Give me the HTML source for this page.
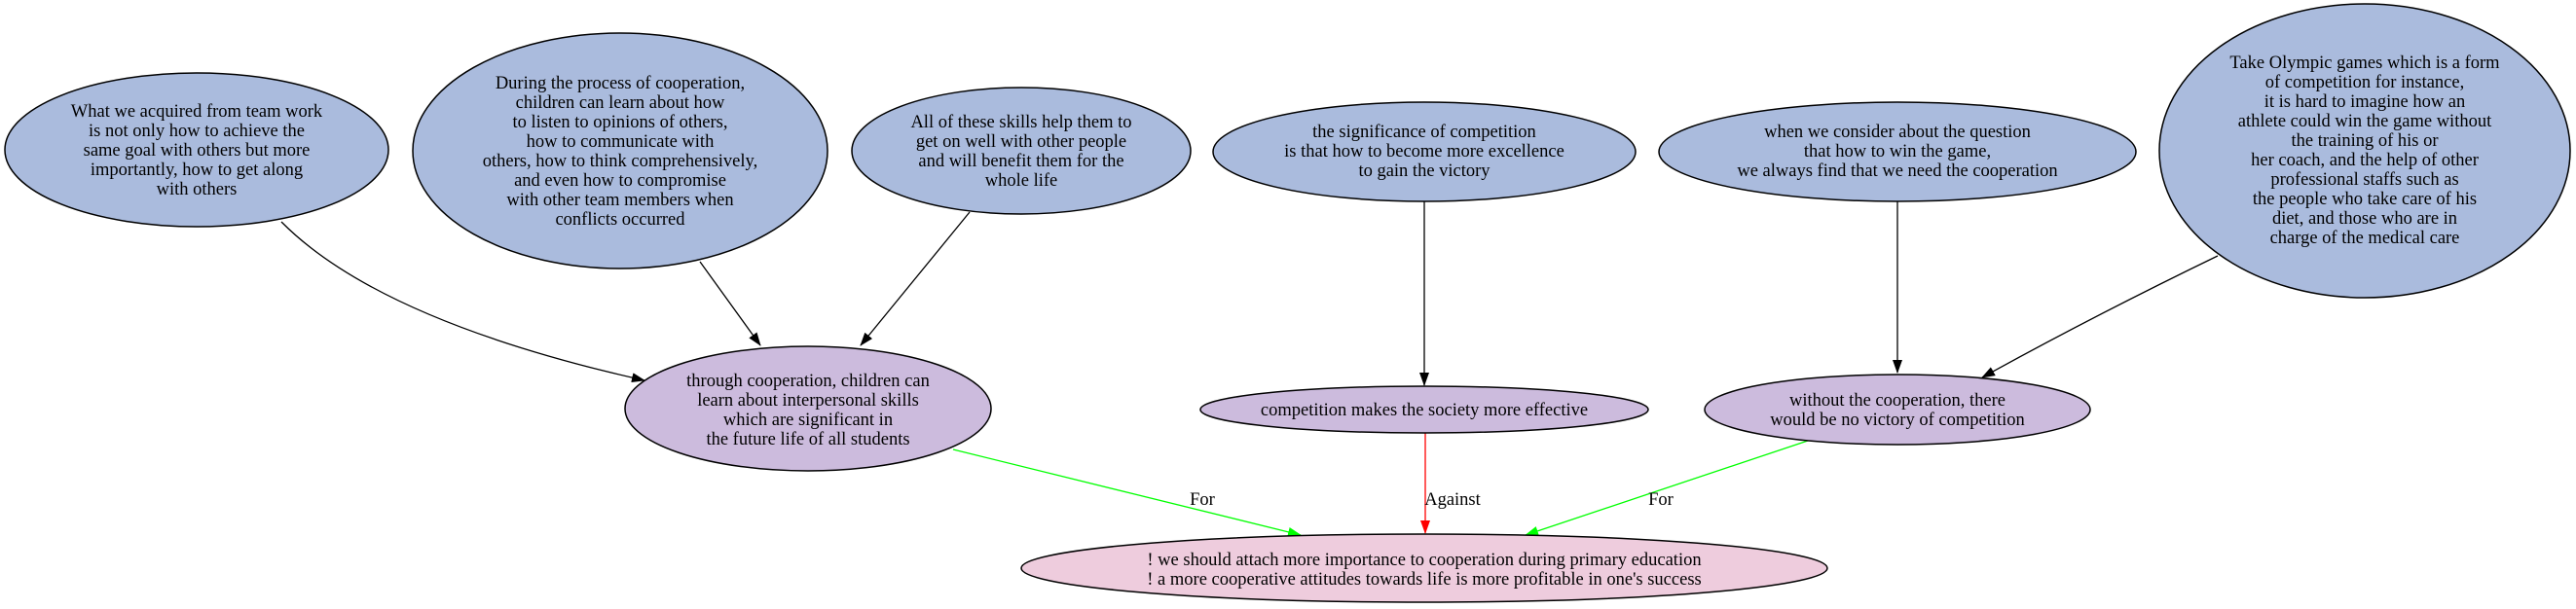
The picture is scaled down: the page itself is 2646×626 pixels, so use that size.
<!DOCTYPE html>
<html><head><meta charset="utf-8"><style>
html,body{margin:0;padding:0;background:#fff;}
svg{display:block;}
text{font-family:"Liberation Serif",serif;font-size:18.5px;fill:#000;text-anchor:middle;}
</style></head><body>
<svg width="2646" height="626" viewBox="0 0 2646 626" xmlns="http://www.w3.org/2000/svg">
<defs>
<marker id="ab" markerWidth="14" markerHeight="10" refX="13" refY="5" orient="auto" markerUnits="userSpaceOnUse"><path d="M0,0 L14,5 L0,10 z" fill="#000"/></marker>
<marker id="ag" markerWidth="14" markerHeight="10" refX="13" refY="5" orient="auto" markerUnits="userSpaceOnUse"><path d="M0,0 L14,5 L0,10 z" fill="#00ff00"/></marker>
<marker id="ar" markerWidth="14" markerHeight="10" refX="13" refY="5" orient="auto" markerUnits="userSpaceOnUse"><path d="M0,0 L14,5 L0,10 z" fill="#ff0000"/></marker>
</defs>
<g fill="none" stroke-width="1.3">
<path d="M289,228 Q390,330 662,391" stroke="#000" marker-end="url(#ab)"/>
<path d="M719,269 L781,355" stroke="#000" marker-end="url(#ab)"/>
<path d="M996,218 L884,355" stroke="#000" marker-end="url(#ab)"/>
<path d="M1463,207 L1463,396" stroke="#000" marker-end="url(#ab)"/>
<path d="M1949,207 L1949,383" stroke="#000" marker-end="url(#ab)"/>
<path d="M2278,263 Q2150,325 2036,388" stroke="#000" marker-end="url(#ab)"/>
<path d="M979,462 L1336,550" stroke="#00ff00" marker-end="url(#ag)"/>
<path d="M1464,445 L1464,548" stroke="#ff0000" marker-end="url(#ar)"/>
<path d="M1857,453 L1567,550" stroke="#00ff00" marker-end="url(#ag)"/>
</g>
<g stroke="#000" stroke-width="1.5">
<ellipse cx="202" cy="154" rx="197" ry="79" fill="#aabbdd"/>
<ellipse cx="637" cy="155" rx="213" ry="121" fill="#aabbdd"/>
<ellipse cx="1049" cy="155" rx="174" ry="65" fill="#aabbdd"/>
<ellipse cx="1463" cy="156" rx="217" ry="51" fill="#aabbdd"/>
<ellipse cx="1949" cy="156" rx="245" ry="51" fill="#aabbdd"/>
<ellipse cx="2429" cy="155" rx="211" ry="151" fill="#aabbdd"/>
<ellipse cx="830" cy="420" rx="188" ry="64" fill="#ccbbdd"/>
<ellipse cx="1463" cy="421" rx="230" ry="24" fill="#ccbbdd"/>
<ellipse cx="1949" cy="421" rx="198" ry="36" fill="#ccbbdd"/>
<ellipse cx="1463" cy="584" rx="414" ry="35" fill="#eeccdd"/>
</g>
<text x="202" y="120">What we acquired from team work</text>
<text x="202" y="140">is not only how to achieve the</text>
<text x="202" y="160">same goal with others but more</text>
<text x="202" y="180">importantly, how to get along</text>
<text x="202" y="200">with others</text>

<text x="637" y="91">During the process of cooperation,</text>
<text x="637" y="111">children can learn about how</text>
<text x="637" y="131">to listen to opinions of others,</text>
<text x="637" y="151">how to communicate with</text>
<text x="637" y="171">others, how to think comprehensively,</text>
<text x="637" y="191">and even how to compromise</text>
<text x="637" y="211">with other team members when</text>
<text x="637" y="231">conflicts occurred</text>

<text x="1049" y="131">All of these skills help them to</text>
<text x="1049" y="151">get on well with other people</text>
<text x="1049" y="171">and will benefit them for the</text>
<text x="1049" y="191">whole life</text>

<text x="1463" y="141">the significance of competition</text>
<text x="1463" y="161">is that how to become more excellence</text>
<text x="1463" y="181">to gain the victory</text>

<text x="1949" y="141">when we consider about the question</text>
<text x="1949" y="161">that how to win the game,</text>
<text x="1949" y="181">we always find that we need the cooperation</text>

<text x="2429" y="70">Take Olympic games which is a form</text>
<text x="2429" y="90">of competition for instance,</text>
<text x="2429" y="110">it is hard to imagine how an</text>
<text x="2429" y="130">athlete could win the game without</text>
<text x="2429" y="150">the training of his or</text>
<text x="2429" y="170">her coach, and the help of other</text>
<text x="2429" y="190">professional staffs such as</text>
<text x="2429" y="210">the people who take care of his</text>
<text x="2429" y="230">diet, and those who are in</text>
<text x="2429" y="250">charge of the medical care</text>

<text x="830" y="397">through cooperation, children can</text>
<text x="830" y="417">learn about interpersonal skills</text>
<text x="830" y="437">which are significant in</text>
<text x="830" y="457">the future life of all students</text>

<text x="1463" y="427">competition makes the society more effective</text>

<text x="1949" y="417">without the cooperation, there</text>
<text x="1949" y="437">would be no victory of competition</text>

<text x="1463" y="581">! we should attach more importance to cooperation during primary education</text>
<text x="1463" y="601">! a more cooperative attitudes towards life is more profitable in one's success</text>

<text x="1235" y="519">For</text>
<text x="1492" y="519">Against</text>
<text x="1706" y="519">For</text>
</svg>
</body></html>
